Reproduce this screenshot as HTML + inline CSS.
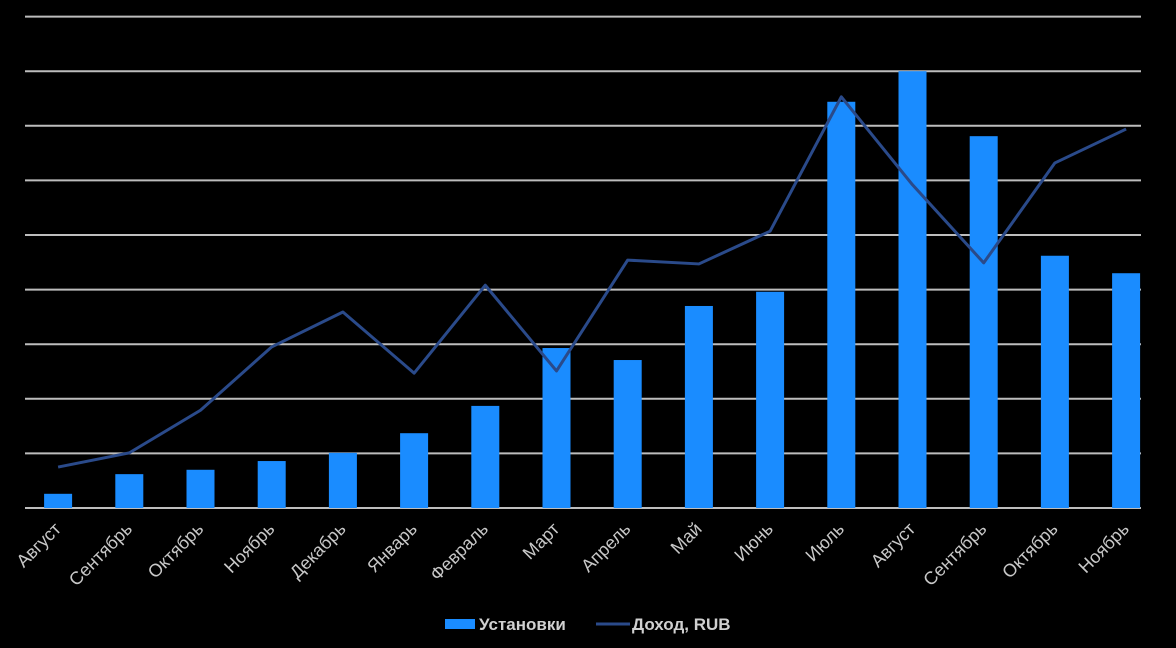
<!DOCTYPE html>
<html><head><meta charset="utf-8"><style>
body{margin:0;background:#000;}
svg{display:block;font-family:"Liberation Sans",sans-serif;}
</style></head><body>
<svg width="1176" height="648">
<g id="grid"></g><g id="bars"></g><g id="line"></g><g id="xlabels"></g>
<g>
<rect x="445" y="619" width="30" height="10" fill="#1a8cff"/>
<text x="479" y="630" fill="#d0d0d0" font-size="17" font-weight="bold">Установки</text>
<line x1="596" y1="624" x2="630" y2="624" stroke="#2a4a8a" stroke-width="3"/>
<text x="632" y="630" fill="#d0d0d0" font-size="17" font-weight="bold">Доход, RUB</text>
</g>
</svg>
<script>
const categories=["Август","Сентябрь","Октябрь","Ноябрь","Декабрь","Январь","Февраль","Март","Апрель","Май","Июнь","Июль","Август","Сентябрь","Октябрь","Ноябрь"];
const installs=[0.26,0.62,0.70,0.86,1.01,1.37,1.87,2.93,2.71,3.70,3.96,7.44,8.0,6.81,4.62,4.30];
const revenue=[0.75,1.01,1.79,2.95,3.59,2.47,4.08,2.51,4.54,4.47,5.07,7.53,5.92,4.49,6.32,6.94];
const gridLevels=[0,1,2,3,4,5,6,7,8,9];
const NS="http://www.w3.org/2000/svg";
const x0=22.5,step=71.2,base=508,unit=54.6;
const xc=i=>x0+step*(i+0.5);
const y=v=>base-v*unit;
function mk(t,a,p){const e=document.createElementNS(NS,t);for(const k in a)e.setAttribute(k,a[k]);p.appendChild(e);return e;}
const G=document.getElementById('grid');
gridLevels.forEach(v=>{const e=mk('line',{x1:25,x2:1141,y1:y(v),y2:y(v),stroke:'#bdbdbd','stroke-width':2},G);

});
const B=document.getElementById('bars');
installs.forEach((v,i)=>{const e=mk('rect',{x:xc(i)-14,y:y(v),width:28,height:v*unit,fill:'#1a8cff'},B);

});
const L=document.getElementById('line');
const pl=mk('polyline',{points:revenue.map((v,i)=>xc(i)+','+y(v)).join(' '),fill:'none',stroke:'#2a4a8a','stroke-width':3,'stroke-linejoin':'round'},L);


const X=document.getElementById('xlabels');
categories.forEach((c,i)=>{const cx=xc(i)+4,cy=530;const e=mk('text',{x:cx,y:cy,'text-anchor':'end',fill:'#c8c8c8','font-size':18,transform:`rotate(-45 ${cx} ${cy})`},X);e.textContent=c;

});
</script>
</body></html>
